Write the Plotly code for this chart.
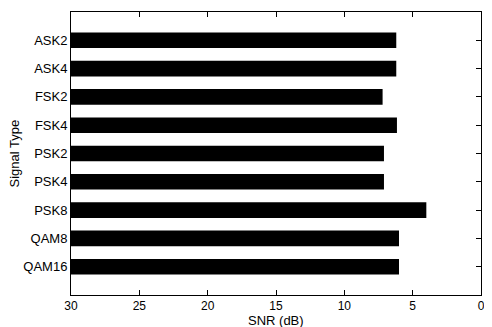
import plotly.graph_objects as go

signal_types = ["ASK2", "ASK4", "FSK2", "FSK4", "PSK2", "PSK4", "PSK8", "QAM8", "QAM16"]
snr_db = [6.2, 6.2, 7.2, 6.15, 7.1, 7.1, 4.0, 6.0, 6.0]
x_ticks = [30, 25, 20, 15, 10, 5, 0]
axis_start = 30

fig = go.Figure()
fig.add_trace(go.Bar(
    y=signal_types,
    x=[axis_start - v for v in snr_db],
    base=snr_db,
    orientation="h",
    marker=dict(color="black", line=dict(width=0)),
    width=0.55,
))

# the page body has an 8px margin, so the figure is sized to fit the window
font = dict(family="Liberation Sans, Arial, sans-serif", size=13, color="black")
fig.update_layout(
    width=484, height=319,
    margin=dict(l=63, r=11, t=4, b=32, autoexpand=False),
    paper_bgcolor="white", plot_bgcolor="white",
    showlegend=False,
    font=font,
    xaxis=dict(
        range=[30, 0], tickvals=x_ticks, ticktext=[str(t) for t in x_ticks],
        ticks="inside", ticklen=5, tickcolor="black", mirror="ticks",
        showline=True, linecolor="black", linewidth=1,
        showgrid=False, zeroline=False, automargin=False,
        ticklabeloverflow="allow", tickfont=dict(size=12),
    ),
    yaxis=dict(
        categoryorder="array", categoryarray=signal_types,
        autorange=False, range=[len(signal_types), -1],
        ticks="inside", ticklen=5, tickcolor="black", mirror="ticks",
        showline=True, linecolor="black", linewidth=1,
        showgrid=False, zeroline=False, automargin=False,
        ticklabelstandoff=0,
    ),
    annotations=[
        dict(text="SNR (dB)", xref="paper", yref="paper", x=0.5, y=0, yshift=-25,
             xanchor="center", yanchor="middle", showarrow=False, font=font),
        dict(text="Signal Type", xref="paper", yref="paper", x=-57 / 410, y=0.5,
             xanchor="center", yanchor="middle", textangle=-90, showarrow=False, font=font),
    ],
)
fig.write_html("out.html")
